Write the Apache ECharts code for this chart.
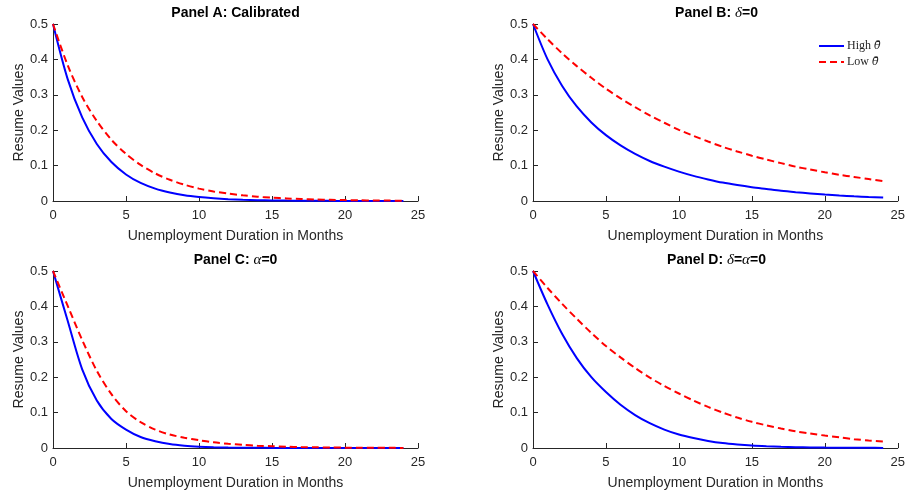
<!DOCTYPE html>
<html>
<head>
<meta charset="utf-8">
<script src="https://cdn.jsdelivr.net/npm/echarts@6/dist/echarts.min.js"></script>
<style>html,body{margin:0;padding:0;background:#fff}#c{width:908px;height:493px}</style>
</head>
<body>
<div id="c"></div>
<script>
const months = [0,1,2,3,4,5,6,7,8,9,10,11,12,13,14,15,16,17,18,19,20,21,22,23,24];
const xTicks = [0,5,10,15,20,25];
const yTicks = [0,0.1,0.2,0.3,0.4,0.5];

const panelTitles = [
  [{t:'Panel A: Calibrated', s:'b'}],
  [{t:'Panel B: ', s:'b'},{t:'δ', s:'m'},{t:'=0', s:'b'}],
  [{t:'Panel C: ', s:'b'},{t:'α', s:'m'},{t:'=0', s:'b'}],
  [{t:'Panel D: ', s:'b'},{t:'δ', s:'m'},{t:'=', s:'b'},{t:'α', s:'m'},{t:'=0', s:'b'}]
];

// Panel A: Calibrated
const highA = [0.500,0.345,0.236,0.161,0.110,0.075,0.051,0.035,0.024,0.016,0.011,0.0076,0.0052,0.0036,0.0024,0.0017,0.0011,0.0008,0.0005,0.0004,0.0003,0.0002,0.0001,0.0001,0.0001];
const lowA  = [0.500,0.384,0.294,0.226,0.173,0.133,0.102,0.078,0.060,0.046,0.035,0.027,0.021,0.016,0.012,0.0094,0.0072,0.0055,0.0042,0.0032,0.0025,0.0019,0.0015,0.0011,0.0009];
// Panel B: delta = 0
const highB = [0.500,0.400,0.325,0.267,0.222,0.186,0.157,0.133,0.113,0.097,0.083,0.071,0.061,0.052,0.045,0.039,0.034,0.029,0.025,0.0215,0.0183,0.0156,0.0133,0.0113,0.0096];
const lowB  = [0.500,0.457,0.417,0.381,0.348,0.317,0.290,0.265,0.242,0.221,0.201,0.184,0.168,0.153,0.140,0.128,0.117,0.107,0.097,0.089,0.081,0.074,0.068,0.062,0.056];
// Panel C: alpha = 0
const highC = [0.500,0.360,0.222,0.134,0.082,0.052,0.031,0.019,0.011,0.0065,0.0038,0.0022,0.0013,0.0008,0.0005,0.0003,0.0002,0.0002,0.0001,0.0001,0.0001,0.0001,0.0001,0.0001,0.0001];
const lowC  = [0.500,0.402,0.305,0.218,0.152,0.104,0.073,0.052,0.038,0.029,0.022,0.016,0.012,0.009,0.0065,0.005,0.0036,0.0026,0.0019,0.0014,0.0010,0.0007,0.0005,0.0004,0.0003];
// Panel D: delta = alpha = 0
const highD = [0.500,0.405,0.322,0.254,0.200,0.158,0.122,0.093,0.070,0.052,0.038,0.028,0.020,0.014,0.010,0.007,0.005,0.0035,0.0024,0.0016,0.0011,0.0008,0.0005,0.0004,0.0003];
const lowD  = [0.500,0.452,0.407,0.365,0.325,0.288,0.256,0.226,0.199,0.175,0.154,0.134,0.116,0.100,0.086,0.074,0.064,0.055,0.047,0.041,0.035,0.030,0.025,0.021,0.018];

const highs = [highA, highB, highC, highD];
const lows  = [lowA, lowB, lowC, lowD];

const grids = [
  {left:53, top:24, width:365, height:177},
  {left:533, top:24, width:367, height:177},
  {left:53, top:271, width:365, height:177},
  {left:533, top:271, width:367, height:177}
];

const AX = '#262626';
const FONT = '"Liberation Sans", Arial, Helvetica, sans-serif';
const SERIF = '"DejaVu Serif", "Liberation Serif", serif';
const LSERIF = '"Liberation Serif", "DejaVu Serif", serif';

const xAxes = grids.map((g,i)=>({
  gridIndex:i, type:'value', min:xTicks[0], max:xTicks[xTicks.length-1], interval:5,
  axisLine:{show:true, onZero:false, lineStyle:{color:AX, width:1}},
  axisTick:{show:true, inside:true, length:5, lineStyle:{color:AX}},
  axisLabel:{color:AX, fontSize:13, fontFamily:FONT, margin:8},
  splitLine:{show:false},
  name:'Unemployment Duration in Months', nameLocation:'middle', nameGap:28,
  nameTextStyle:{color:AX, fontSize:14, fontFamily:FONT}
}));
const yAxes = grids.map((g,i)=>({
  gridIndex:i, type:'value', min:yTicks[0], max:yTicks[yTicks.length-1], interval:0.1,
  axisLine:{show:true, lineStyle:{color:AX, width:1}},
  axisTick:{show:true, inside:true, length:5, lineStyle:{color:AX}},
  axisLabel:{color:AX, fontSize:13, fontFamily:FONT, margin:5,
    formatter:v=>v===0?'0':(Math.round(v*10)/10).toFixed(1)},
  splitLine:{show:false},
  name:'Resume Values', nameLocation:'middle', nameGap:25, nameRotate:90,
  nameTextStyle:{color:AX, fontSize:14, fontFamily:FONT}
}));

const series = [];
grids.forEach((g,i)=>{
  series.push({
    name:'High θ̄', type:'line', xAxisIndex:i, yAxisIndex:i,
    data:months.map((m,k)=>[m, highs[i][k]]),
    smooth:0.3, symbol:'none', showSymbol:false,
    lineStyle:{color:'#0000ff', width:2}, itemStyle:{color:'#0000ff'}, z:2
  });
  series.push({
    name:'Low θ̄', type:'line', xAxisIndex:i, yAxisIndex:i,
    data:months.map((m,k)=>[m, lows[i][k]]),
    smooth:0.3, symbol:'none', showSymbol:false,
    lineStyle:{color:'#ff0000', width:2, type:[7,4]}, itemStyle:{color:'#ff0000'}, z:3
  });
});

const titleGraphics = panelTitles.map((parts,i)=>{
  const g = grids[i];
  return {
    type:'text', x:g.left + g.width/2, y:13,
    style:{
      text: parts.map(p=>'{'+p.s+'|'+p.t+'}').join(''),
      align:'center', verticalAlign:'middle',
      rich:{
        b:{fontFamily:FONT, fontWeight:'bold', fontSize:14, fill:'#000'},
        m:{fontFamily:LSERIF, fontStyle:'italic', fontSize:15, fill:'#000'}
      }
    }
  };
});
titleGraphics[2].y = 260; titleGraphics[3].y = 260;

const option = {
  animation:false,
  backgroundColor:'#fff',
  grid: grids.map(g=>Object.assign({containLabel:false}, g)),
  xAxis:xAxes, yAxis:yAxes, series:series,
  legend:{
    show:true, orient:'vertical', left:813, top:35,
    itemWidth:25, itemHeight:10, itemGap:4,
    data:['High θ̄','Low θ̄'],
    itemStyle:{opacity:0},
    formatter:n=>n==='High θ̄'?'{n|High }{m|θ̄}':'{n|Low }{m|θ̄}',
    textStyle:{color:AX, fontSize:12, fontFamily:LSERIF, padding:[0,0,0,-2],
      rich:{n:{fontFamily:LSERIF, fontSize:12, color:AX}, m:{fontFamily:SERIF, fontStyle:'italic', fontSize:11, color:AX}}}
  },
  graphic:titleGraphics
};

const chart = echarts.init(document.getElementById('c'), null, {renderer:'canvas'});
chart.setOption(option);
</script>
</body>
</html>
